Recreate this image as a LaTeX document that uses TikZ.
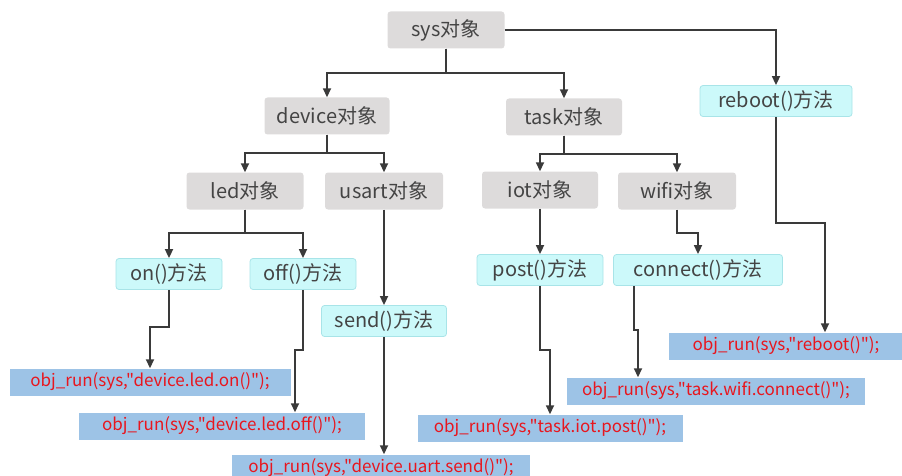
\documentclass[tikz,border=0pt]{standalone}
\usepackage{fontspec}
\setmainfont{Noto Sans CJK SC}[Ligatures=TeXOff]
\usetikzlibrary{arrows.meta}

\definecolor{objfill}{HTML}{DDDBDB}
\definecolor{methfill}{HTML}{CCF9FA}
\definecolor{methline}{HTML}{A8E4E8}
\definecolor{codefill}{HTML}{9DC3E6}
\definecolor{codetext}{HTML}{E8161E}
\definecolor{nodetext}{HTML}{444444}
\definecolor{wire}{HTML}{3A3A3A}

\begin{document}
\begin{tikzpicture}[x=1pt, y=-1pt,
	obj/.style = {fill=objfill, rounded corners=3pt, minimum height=37, text=nodetext, font=\fontsize{20}{22}\selectfont},
	meth/.style = {fill=methfill, draw=methline, line width=0.8pt, rounded corners=3pt, minimum height=31, text=nodetext, font=\fontsize{20}{22}\selectfont},
	code/.style = {fill=codefill, minimum height=27, text=codetext, font=\fontsize{17}{19}\selectfont},
	link/.style = {draw=wire, line width=1.7pt, -{Triangle[length=9pt,width=8pt]}}]
	\useasboundingbox (0,0) rectangle (902,476);

	% objects
	\node[obj, minimum width=117] (sys)    at (446,30)  {sys对象};
	\node[obj, minimum width=125] (device) at (327,116) {device对象};
	\node[obj, minimum width=116] (task)   at (564,117) {task对象};
	\node[obj, minimum width=117] (led)    at (245,191) {led对象};
	\node[obj, minimum width=118] (usart)  at (384,191) {usart对象};
	\node[obj, minimum width=116] (iot)    at (540,190) {iot对象};
	\node[obj, minimum width=118] (wifi)   at (677,191) {wifi对象};

	% methods
	\node[meth, minimum width=152] (reboot)  at (776,101) {reboot()方法};
	\node[meth, minimum width=106] (on)      at (169,274) {on()方法};
	\node[meth, minimum width=106] (off)     at (303,274) {off()方法};
	\node[meth, minimum width=125] (send)    at (384,321) {send()方法};
	\node[meth, minimum width=126] (post)    at (540,270) {post()方法};
	\node[meth, minimum width=169] (connect) at (698,270) {connect()方法};

	% calls
	\node[code, minimum width=281] (oncode)      at (150,382) {obj\_run(sys,"device.led.on()");};
	\node[code, minimum width=286] (offcode)     at (222,426) {obj\_run(sys,"device.led.off()");};
	\node[code, minimum width=298] (sendcode)    at (381,468) {obj\_run(sys,"device.uart.send()");};
	\node[code, minimum width=265] (postcode)    at (550,428) {obj\_run(sys,"task.iot.post()");};
	\node[code, minimum width=298] (connectcode) at (716,391) {obj\_run(sys,"task.wifi.connect()");};
	\node[code, minimum width=234] (rebootcode)  at (786,346) {obj\_run(sys,"reboot()");};

	% tree
	\draw[link] (sys.south) -- ++(0,24) -| (device.north);
	\draw[link] (sys.south) -- ++(0,24) -| (task.north);
	\draw[link] (sys.east) -| (reboot.north);
	\draw[link] (device.south) -- ++(0,18) -| (led.north);
	\draw[link] (device.south) -- ++(0,18) -| (usart.north);
	\draw[link] (task.south) -- ++(0,18) -| (iot.north);
	\draw[link] (task.south) -- ++(0,18) -| (wifi.north);
	\draw[link] (led.south) -- ++(0,23) -| (on.north);
	\draw[link] (led.south) -- ++(0,23) -| (off.north);
	\draw[link] (usart.south) -- (send.north);
	\draw[link] (iot.south) -- (post.north);
	\draw[link] (wifi.south) -- ++(0,23) -| (connect.north);

	% methods to calls
	\draw[link] (on.south) -- ++(0,37) -| (oncode.north);
	\draw[link] (off.south) -- ++(0,60) -| ([xshift=73]offcode.north);
	\draw[link] (send.south) -- (send.south |- sendcode.north);
	\draw[link] (post.south) -- ++(0,64) -| (postcode.north);
	\draw[link] ([xshift=-64]connect.south) -- ++(0,44) -| ([xshift=-78]connectcode.north);
	\draw[link] (reboot.south) -- ++(0,106) -| ([xshift=39]rebootcode.north);
\end{tikzpicture}
\end{document}
